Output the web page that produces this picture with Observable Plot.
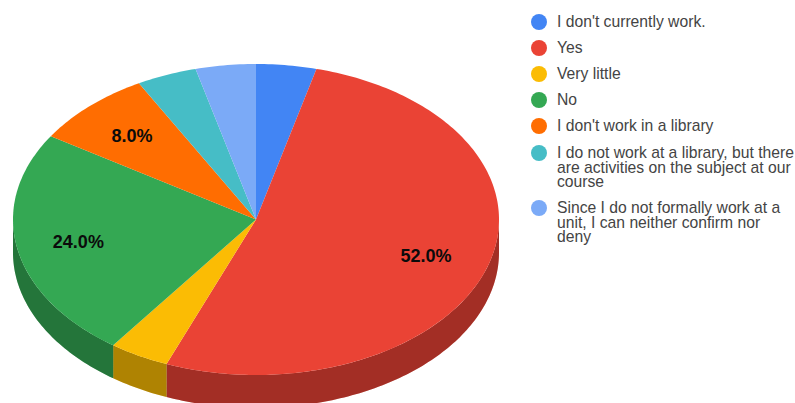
<!DOCTYPE html>
<html>
<head>
<meta charset="utf-8">
<script src="https://cdn.jsdelivr.net/npm/d3@7"></script>
<script src="https://cdn.jsdelivr.net/npm/@observablehq/plot@0.6"></script>
<style>
  html, body { margin: 0; padding: 0; background: #fff; overflow: hidden; }
  #page { position: relative; width: 795px; height: 403px; overflow: hidden; }
  #legend { position: absolute; left: 531px; top: 0; width: 264px;
            font: 15.7px/14.6px "Liberation Sans", Arial, sans-serif; color: #444; }
  .entry { position: absolute; left: 0; padding-left: 26px; width: 238px; white-space: pre-line; }
  .swatch { position: absolute; left: 0; top: -1px; width: 16px; height: 16px; border-radius: 50%; }
</style>
</head>
<body>
<div id="page"><div id="chart"></div><div id="legend"></div></div>
<script>
const answers = [
  "I don't currently work.",
  "Yes",
  "Very little",
  "No",
  "I don't work in a library",
  "I do not work at a library, but there\nare activities on the subject at our\ncourse",
  "Since I do not formally work at a\nunit, I can neither confirm nor\ndeny"
];
const shares = [4, 52, 4, 24, 8, 4, 4];
const colors = ["#4285f4", "#ea4335", "#fbbc04", "#34a853", "#ff6d01", "#46bdc6", "#7baaf7"];
const legendTops = [15, 41, 67, 93, 119, 146, 201];

// Unit-pie coordinates: the ellipse is the unit circle stretched by the x and y scales.
const thickness = 0.212;
const labelRadius = 0.74;
const minLabelShare = 5;
const total = d3.sum(shares);

let running = 0;
const slices = answers.map((answer, i) => {
  const start = running / total * 360;
  running += shares[i];
  return {answer, share: shares[i], start, end: running / total * 360};
});

const rim = (deg, drop = 0) => {
  const a = deg * Math.PI / 180;
  return {u: Math.sin(a), v: Math.cos(a) - drop};
};
const arc = (from, to) => {
  const steps = Math.max(1, Math.ceil(Math.abs(to - from)));
  return d3.range(steps + 1).map(k => from + (to - from) * k / steps);
};

const tops = slices.flatMap(s => [
  {answer: s.answer, u: 0, v: 0},
  ...arc(s.start, s.end).map(deg => ({answer: s.answer, ...rim(deg)}))
]);

// Only the front half of the rim is visible, from 90° round to 270°.
const walls = slices
  .filter(s => s.end > 90 && s.start < 270)
  .flatMap(s => {
    const from = Math.max(s.start, 90), to = Math.min(s.end, 270);
    return [
      ...arc(from, to).map(deg => ({answer: s.answer, ...rim(deg)})),
      ...arc(to, from).map(deg => ({answer: s.answer, ...rim(deg, thickness)}))
    ];
  });

const labels = slices.filter(s => s.share >= minLabelShare).map(s => {
  const p = rim((s.start + s.end) / 2);
  return {u: p.u * labelRadius, v: p.v * labelRadius, text: s.share.toFixed(1) + "%"};
});

const chart = Plot.plot({
  width: 520,
  height: 403,
  margin: 0,
  x: {axis: null, domain: [-255.5 / 243, 264.5 / 243]},
  y: {axis: null, domain: [-184 / 155.5, 219 / 155.5]},
  color: {domain: answers, range: colors},
  style: {background: "transparent"},
  marks: [
    Plot.line(walls, {x: "u", y: "v", z: "answer", fill: "answer", stroke: "none"}),
    Plot.line(walls, {x: "u", y: "v", z: "answer", fill: "black", fillOpacity: 0.3, stroke: "none"}),
    Plot.line(tops, {x: "u", y: "v", z: "answer", fill: "answer", stroke: "none"}),
    Plot.text(labels, {
      x: "u", y: "v", dx: -1, dy: 1, text: "text",
      fontFamily: "Liberation Sans, Arial, sans-serif",
      fontWeight: "bold", fontSize: 18, fill: "#0b0b0b"
    })
  ]
});
document.getElementById("chart").append(chart);

const legend = document.getElementById("legend");
answers.forEach((answer, i) => {
  const entry = document.createElement("div");
  entry.className = "entry";
  entry.style.top = legendTops[i] + "px";
  const swatch = document.createElement("span");
  swatch.className = "swatch";
  swatch.style.background = colors[i];
  entry.append(swatch, answer);
  legend.append(entry);
});
</script>
</body>
</html>
